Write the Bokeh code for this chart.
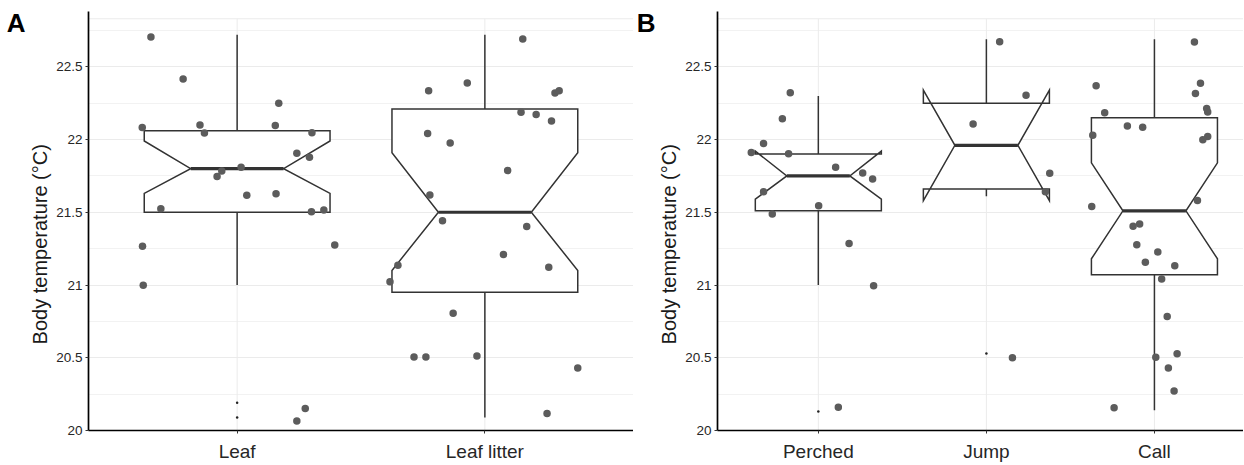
from bokeh.plotting import figure
from bokeh.models import Range1d, FixedTicker, Span, LinearAxis
from bokeh.layouts import row
from bokeh.embed import file_html
from bokeh.resources import INLINE

# ---------------- data ----------------
# Panel A: substrate
cats_a = ["Leaf", "Leaf litter"]
q1_a = [21.50, 20.95]
med_a = [21.80, 21.50]
q3_a = [22.06, 22.21]
notch_lo_a = [21.63, 21.10]
notch_hi_a = [21.99, 21.91]
whisk_lo_a = [21.00, 20.09]
whisk_hi_a = [22.72, 22.72]
outliers_a = [[20.19, 20.09], []]

leaf_jit = [-0.348, -0.218, 0.168, -0.383, -0.150, -0.132, 0.154, 0.302, 0.241, 0.292, 0.016, -0.062,
            -0.081, 0.039, 0.157, -0.308, 0.300, 0.350, -0.382, -0.379, 0.394, 0.275, 0.241]
leaf_val = [22.705, 22.416, 22.25, 22.083, 22.10, 22.045, 22.097, 22.047, 21.906, 21.878, 21.81, 21.783,
            21.746, 21.617, 21.628, 21.525, 21.503, 21.516, 21.266, 20.999, 21.275, 20.152, 20.066]
litter_jit = [0.153, -0.227, -0.071, 0.283, 0.300, 0.146, 0.207, 0.269, -0.231, -0.140, 0.092, -0.222,
              -0.171, 0.169, -0.351, -0.383, 0.075, 0.258, -0.128, -0.286, -0.238, -0.032, 0.375, 0.251]
litter_val = [22.691, 22.336, 22.389, 22.32, 22.336, 22.188, 22.172, 22.127, 22.042, 21.976, 21.787, 21.619,
              21.441, 21.402, 21.136, 21.023, 21.21, 21.122, 20.806, 20.505, 20.505, 20.512, 20.43, 20.116]

# Panel B: behaviour
cats_b = ["Perched", "Jump", "Call"]
q1_b = [21.51, 21.66, 21.07]
med_b = [21.75, 21.96, 21.51]
q3_b = [21.90, 22.25, 22.15]
notch_lo_b = [21.59, 21.58, 21.18]
notch_hi_b = [21.92, 22.34, 21.84]
whisk_lo_b = [21.00, 21.61, 20.14]
whisk_hi_b = [22.30, 22.69, 22.69]
outliers_b = [[20.13], [20.53], []]

perched_jit = [-0.167, -0.214, -0.326, -0.399, -0.177, 0.103, 0.264, 0.323, -0.326, -0.274, 0.002, 0.183,
               0.329, 0.119]
perched_val = [22.322, 22.143, 21.972, 21.911, 21.902, 21.809, 21.77, 21.729, 21.641, 21.488, 21.545, 21.286,
               20.995, 20.159]
jump_jit = [0.079, 0.236, -0.079, 0.377, 0.351, 0.155]
jump_val = [22.672, 22.304, 22.106, 21.768, 21.641, 20.50]
call_jit = [0.238, -0.347, 0.274, 0.244, -0.296, 0.311, 0.317, -0.161, -0.070, -0.367, 0.317, 0.288, 0.256,
            -0.373, -0.088, -0.127, -0.105, 0.020, -0.054, 0.121, 0.043, 0.076, 0.135, 0.008, 0.083, 0.117,
            -0.240]
call_val = [22.67, 22.37, 22.386, 22.316, 22.184, 22.213, 22.19, 22.093, 22.084, 22.029, 22.02, 21.999, 21.581,
            21.54, 21.42, 21.404, 21.277, 21.227, 21.157, 21.132, 21.041, 20.784, 20.527, 20.504, 20.429, 20.271,
            20.157]

y_major = [20, 20.5, 21, 21.5, 22, 22.5]
y_minor = [20.25, 20.75, 21.25, 21.75, 22.25, 22.75]
y_title = "Body temperature (°C)"

# ---------------- styling ----------------
FONT = "Liberation Sans"
BOX = "#333333"
PT = "#5c5c5c"
GRID = "#ebebeb"
Y_START, Y_END, PANEL_TOP = 20, 22.88, 22.83
TITLE_AT, LETTER_AT = 21.28, 22.80      # vertical anchors (data units) of the title and panel letter
H = 464
TOP = 11
BOTTOM = 32


def side_text_axis(where, text, size, style, orient, standoff, color):
    ax = LinearAxis(ticker=FixedTicker(ticks=[where]), major_label_overrides={where: text})
    ax.major_label_orientation = orient
    ax.major_label_standoff = standoff
    ax.major_label_text_font = FONT
    ax.major_label_text_font_size = size
    ax.major_label_text_font_style = style
    ax.major_label_text_color = color
    ax.axis_line_color = None
    ax.major_tick_line_color = None
    ax.minor_tick_line_color = None
    ax.major_tick_in = 0
    ax.major_tick_out = 0
    ax.minor_tick_in = 0
    ax.minor_tick_out = 0
    return ax


def panel(cats, q1, med, q3, nlo, nhi, wlo, whi, outs, jits, vals, width, left, x_end,
          letter, title_gap, letter_gap):
    n = len(cats)
    idx = list(range(n))
    p = figure(width=width, height=H, output_backend="svg", toolbar_location=None,
               x_range=Range1d(-0.6, x_end), y_range=Range1d(Y_START, Y_END),
               min_border_left=left, min_border_right=0, min_border_top=TOP,
               min_border_bottom=BOTTOM)
    p.outline_line_color = None
    p.background_fill_color = "white"
    p.border_fill_color = "white"

    # grid
    p.xgrid.grid_line_color = None
    p.ygrid.ticker = FixedTicker(ticks=y_major, minor_ticks=y_minor)
    p.ygrid.grid_line_color = GRID
    p.ygrid.grid_line_width = 1.1
    p.ygrid.minor_grid_line_color = "#f1f1f1"
    p.ygrid.minor_grid_line_width = 0.9
    p.add_layout(Span(location=PANEL_TOP, dimension="width", line_color=GRID, line_width=1,
                      level="underlay"))
    p.segment(x0=idx, y0=[Y_START] * n, x1=idx, y1=[PANEL_TOP] * n, line_color=GRID, line_width=1)

    # axes
    p.yaxis.ticker = FixedTicker(ticks=y_major, minor_ticks=y_minor)
    p.yaxis.major_label_overrides = {t: f"{t:g}" for t in y_major}
    p.yaxis.major_label_standoff = 2
    p.xaxis.ticker = FixedTicker(ticks=idx)
    p.xaxis.major_label_overrides = {i: c for i, c in enumerate(cats)}
    p.xaxis.major_label_standoff = 7
    p.yaxis.major_label_text_font_size = "13.5px"
    p.xaxis.major_label_text_font_size = "19px"
    for ax in (p.xaxis[0], p.yaxis[0]):
        ax.major_label_text_font = FONT
        ax.major_label_text_color = "#262626"
        ax.axis_line_color = "black"
        ax.axis_line_width = 1.7
        ax.major_tick_in = 0
        ax.major_tick_out = 3
        ax.major_tick_line_color = "#333333"
        ax.minor_tick_line_color = None

    # y title and panel letter, carried by label-only axes stacked left of the y axis
    p.add_layout(side_text_axis(TITLE_AT, y_title, "20px", "normal", "parallel", title_gap, "#1a1a1a"),
                 "left")
    p.add_layout(side_text_axis(LETTER_AT, letter, "26px", "bold", "horizontal", letter_gap, "black"),
                 "left")

    # notched boxes
    hw, nw = 0.375, 0.1875
    xs, ys = [], []
    for i in idx:
        xs.append([i - hw, i - hw, i - nw, i - hw, i - hw, i + hw, i + hw, i + nw, i + hw, i + hw])
        ys.append([q3[i], nhi[i], med[i], nlo[i], q1[i], q1[i], nlo[i], med[i], nhi[i], q3[i]])
    p.segment(x0=idx, y0=q3, x1=idx, y1=whi, line_color=BOX, line_width=1.5)
    p.segment(x0=idx, y0=q1, x1=idx, y1=wlo, line_color=BOX, line_width=1.5)
    p.patches(xs=xs, ys=ys, fill_color="white", line_color=BOX, line_width=1.5, line_join="miter")
    p.segment(x0=[i - nw for i in idx], y0=med, x1=[i + nw for i in idx], y1=med,
              line_color=BOX, line_width=3.2)

    # outliers (tiny)
    ox, oy = [], []
    for i in idx:
        for v in outs[i]:
            ox.append(i)
            oy.append(v)
    if ox:
        p.scatter(x=ox, y=oy, size=2.5, fill_color="#222222", line_color=None)

    # jittered raw points
    px, py = [], []
    for i in idx:
        for j, v in zip(jits[i], vals[i]):
            px.append(i + j)
            py.append(v)
    p.scatter(x=px, y=py, size=7.5, fill_color=PT, line_color=None)
    return p


pa = panel(cats_a, q1_a, med_a, q3_a, notch_lo_a, notch_hi_a, whisk_lo_a, whisk_hi_a, outliers_a,
           [leaf_jit, litter_jit], [leaf_val, litter_val],
           width=633, left=88, x_end=1.6, letter="A", title_gap=2, letter_gap=1)
pb = panel(cats_b, q1_b, med_b, q3_b, notch_lo_b, notch_hi_b, whisk_lo_b, whisk_hi_b, outliers_b,
           [perched_jit, jump_jit, call_jit], [perched_val, jump_val, call_val],
           width=610, left=84, x_end=2.53, letter="B", title_gap=2, letter_gap=0)

layout = row(pa, pb)
open("out.html", "w").write(file_html(layout, INLINE))
